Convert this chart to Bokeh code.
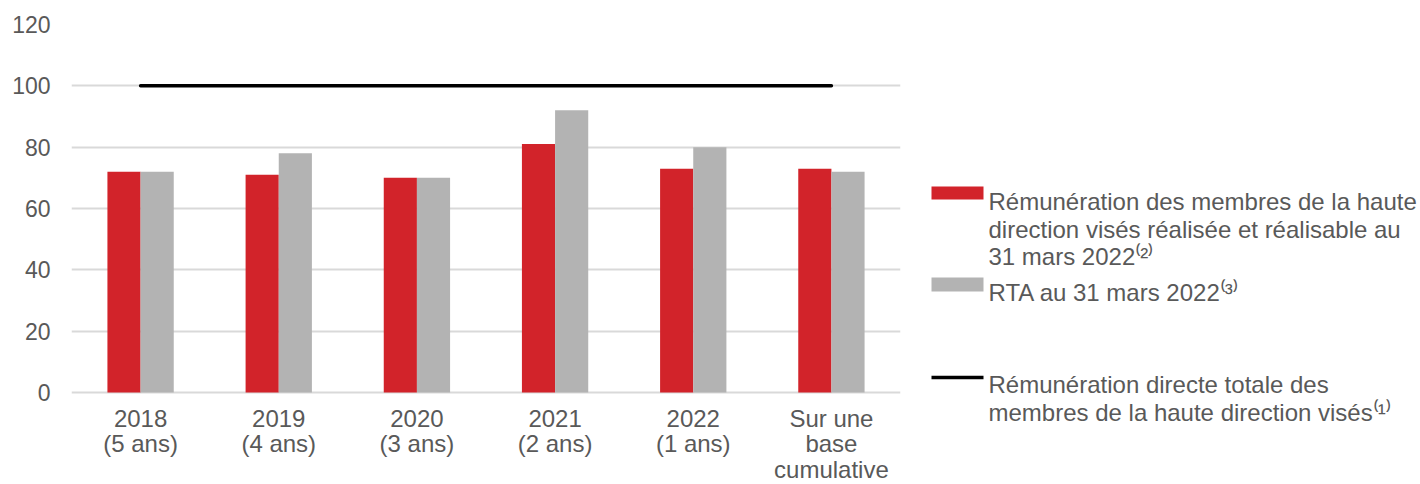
from bokeh.plotting import figure
from bokeh.models import Range1d, FactorRange, FixedTicker, ColumnDataSource
from bokeh.layouts import row
from bokeh.transform import dodge
from bokeh.core.properties import value
from bokeh.embed import file_html
from bokeh.resources import INLINE

# ---- data ----
categories = ["2018\n(5 ans)", "2019\n(4 ans)", "2020\n(3 ans)",
              "2021\n(2 ans)", "2022\n(1 ans)", "Sur une\nbase\ncumulative"]
realised = [72, 71, 70, 81, 73, 73]
tra = [72, 78, 70, 92, 80, 72]
direct_total = [100, 100, 100, 100, 100, 100]
y_ticks = [0, 20, 40, 60, 80, 100, 120]

legend_realised = ["Rémunération des membres de la haute",
                   "direction visés réalisée et réalisable au",
                   "31 mars 2022⁽²⁾"]
legend_tra = ["RTA au 31 mars 2022⁽³⁾"]
legend_total = ["Rémunération directe totale des",
                "membres de la haute direction visés⁽¹⁾"]

RED = "#D2232A"
GREY = "#B3B3B3"
TXT = "#595959"
FONT = "Liberation Sans"

src = ColumnDataSource(dict(cat=categories, realised=realised, tra=tra,
                            total=direct_total, lab_y=[0] * len(categories)))

# main chart: the frame runs to the bottom of the page so the category
# labels (drawn below 0) have room, as in the reference
p = figure(width=920, height=484, x_range=FactorRange(*categories),
           y_range=Range1d(-30, 120), output_backend="svg", toolbar_location=None,
           min_border_left=71, min_border_right=20, min_border_top=24, min_border_bottom=0)
p.outline_line_color = None
p.background_fill_color = "white"
p.border_fill_color = "white"

p.vbar(x=dodge("cat", -0.12, range=p.x_range), top="realised", width=0.24,
       source=src, fill_color=RED, line_color=None)
p.vbar(x=dodge("cat", 0.12, range=p.x_range), top="tra", width=0.24,
       source=src, fill_color=GREY, line_color=None)
p.line(x="cat", y="total", source=src, line_color="black", line_width=3.5,
       line_cap="round")

# category labels under the bars
p.text(x="cat", y="lab_y", text="cat", source=src, text_font=value(FONT),
       text_font_size="24px", text_color=TXT, text_align="center",
       text_baseline="top", text_line_height=0.96, y_offset=12)

p.xaxis.visible = False
p.xgrid.grid_line_color = None
p.ygrid.grid_line_color = "#D9D9D9"
p.ygrid.grid_line_width = 2
p.yaxis.ticker = FixedTicker(ticks=y_ticks)
p.yaxis.axis_line_color = None
p.yaxis.major_tick_line_color = None
p.yaxis.minor_tick_line_color = None
p.yaxis.major_tick_out = 0
p.yaxis.minor_tick_out = 0
p.yaxis.major_label_text_font = FONT
p.yaxis.major_label_text_color = TXT
p.yaxis.major_label_text_font_size = "23px"
p.yaxis.major_label_standoff = 21

# ---- legend panel (page-pixel coordinates) ----
lg = figure(width=500, height=484, x_range=Range1d(920, 1420), y_range=Range1d(484, 24),
            output_backend="svg", toolbar_location=None,
            min_border_left=0, min_border_right=0, min_border_top=24, min_border_bottom=0)
lg.outline_line_color = None
lg.xaxis.visible = False
lg.yaxis.visible = False
lg.grid.visible = False

lg.quad(left=[931], right=[983], top=[186], bottom=[199], fill_color=RED, line_color=None)
lg.quad(left=[931], right=[983], top=[277], bottom=[291], fill_color=GREY, line_color=None)
lg.line(x=[931, 983], y=[377, 377], line_color="black", line_width=3.5)

lines = legend_realised + legend_tra + legend_total
ys = [201, 229, 256, 292, 384, 412]
lg.text(x=[988] * len(lines), y=ys, text=lines, text_font=value(FONT),
        text_font_size="24px", text_color=TXT, text_baseline="alphabetic",
        text_align="left")

layout = row(p, lg)
open("out.html", "w").write(file_html(layout, INLINE))
